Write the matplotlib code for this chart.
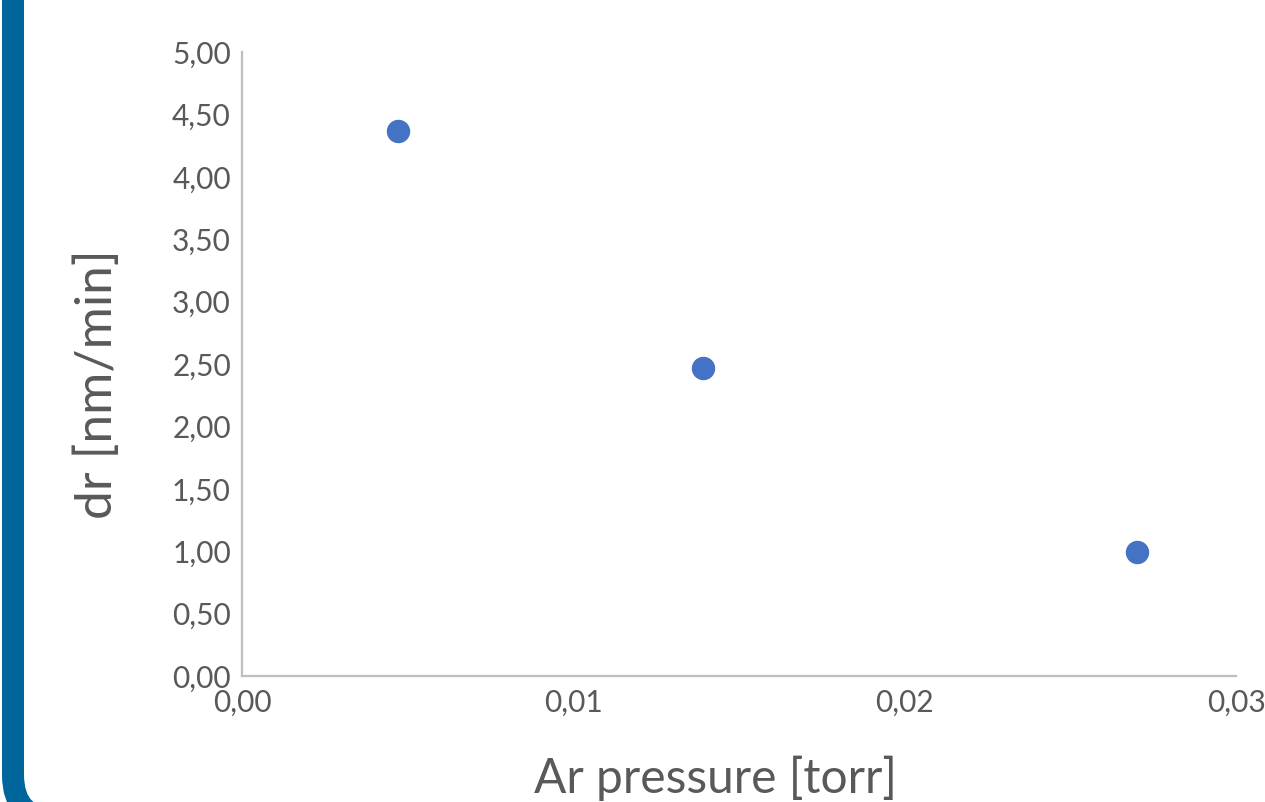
import matplotlib
matplotlib.use("Agg")
import matplotlib.pyplot as plt
from matplotlib.patches import FancyBboxPatch
from matplotlib.ticker import FixedLocator, FuncFormatter
import matplotlib.transforms as mtransforms

# Deposition rate vs. argon pressure
pressure_torr = [0.0047, 0.0139, 0.0270]
rate_nm_min = [4.37, 2.47, 0.99]

x_ticks = [0.00, 0.01, 0.02, 0.03]
y_ticks = [0.0, 0.5, 1.0, 1.5, 2.0, 2.5, 3.0, 3.5, 4.0, 4.5, 5.0]
x_label = "Ar pressure [torr]"
y_label = "dr [nm/min]"

W, H = 1265, 802
TEXT = "#595959"
AXIS = "#BFBFBF"
MARKER = "#4472C4"
FRAME = "#00659B"

plt.rcParams["font.family"] = ["Lato", "DejaVu Sans"]

fig = plt.figure(figsize=(W / 100, H / 100), dpi=100)
fig.patch.set_facecolor("white")

# plot area in pixel units
left, right, top, bottom = 242, 1236, 52, 676
ax = fig.add_axes([left / W, (H - bottom) / H, (right - left) / W, (bottom - top) / H])

ax.scatter(pressure_torr, rate_nm_min, s=22 ** 2 * 0.52, color=MARKER,
           edgecolors=MARKER, linewidths=1.0, zorder=3, clip_on=False)

ax.set_xlim(0, 0.03)
ax.set_ylim(0, 5)
ax.xaxis.set_major_locator(FixedLocator(x_ticks))
ax.yaxis.set_major_locator(FixedLocator(y_ticks))
ax.xaxis.set_major_formatter(FuncFormatter(lambda v, p: f"{v:.2f}".replace(".", ",")))
ax.yaxis.set_major_formatter(FuncFormatter(lambda v, p: f"{v:.2f}".replace(".", ",")))

for side in ("top", "right"):
    ax.spines[side].set_visible(False)
for side in ("left", "bottom"):
    ax.spines[side].set_color(AXIS)
    ax.spines[side].set_linewidth(1.6)

ax.tick_params(axis="both", length=0, labelsize=21.5, labelcolor=TEXT)
ax.tick_params(axis="y", pad=8)
ax.tick_params(axis="x", pad=9)

px = mtransforms.Affine2D().scale(1 / W, 1 / H) + fig.transFigure

fig.text(716, H - 778, x_label, transform=px, fontsize=34.5, color=TEXT,
         ha="center", va="center")
fig.text(98, H - 384, y_label, transform=px, fontsize=37, color=TEXT,
         ha="center", va="center", rotation=90)

# rounded frame along the left edge
frame = FancyBboxPatch((13, -18), 1400, 1000,
                       boxstyle="round,pad=0,rounding_size=45",
                       transform=px, facecolor="none", edgecolor=FRAME,
                       linewidth=22 * 72 / 100, clip_on=False)
fig.patches.append(frame)

fig.savefig("out.png", dpi=100, facecolor="white")
